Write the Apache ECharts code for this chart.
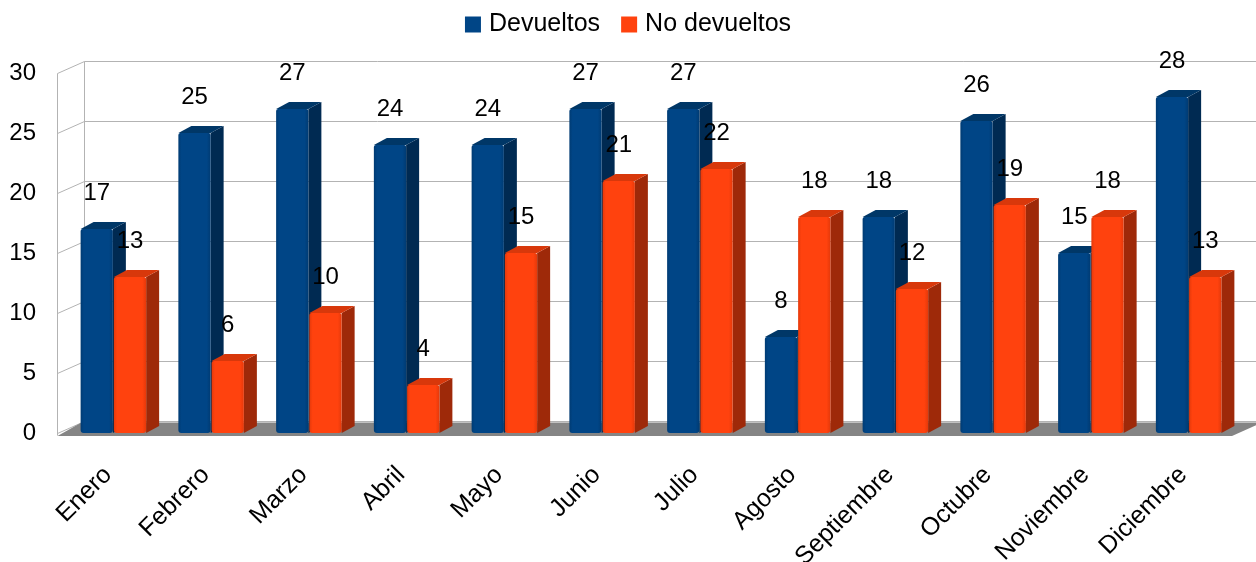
<!DOCTYPE html>
<html>
<head>
<meta charset="utf-8">
<script src="https://cdn.jsdelivr.net/npm/echarts@6/dist/echarts.min.js"></script>
<style>html,body{margin:0;padding:0;background:#fff}#c{width:1256px;height:562px}</style>
</head>
<body>
<div id="c"></div>
<script>
const categories = ['Enero','Febrero','Marzo','Abril','Mayo','Junio','Julio','Agosto','Septiembre','Octubre','Noviembre','Diciembre'];
const devueltos = [17,25,27,24,24,27,27,8,18,26,15,28];
const noDevueltos = [13,6,10,4,15,21,22,18,12,19,18,13];
const yTicks = [0,5,10,15,20,25,30];

const FONT = 'Liberation Sans, Arial, sans-serif';
const DX = 13, DY = -7;          // bar depth offset
const WDX = 27, WDY = -12;       // wall depth offset

const palettes = {
  blue:   { front: '#004586', edge: '#003b73', side: '#002a52', top: '#003767' },
  orange: { front: '#ff420e', edge: '#e5390a', side: '#9e2909', top: '#d8380b' }
};

function bar3d(pal, leftSide) {
  return function (params, api) {
    const cat = api.value(0), val = api.value(1);
    const base = api.coord([cat, 0]);
    const topP = api.coord([cat, val]);
    const band = api.size([1, 0])[0];
    const w = band * 0.33;
    const cx = base[0];
    const x0 = leftSide ? cx - w : cx + 1;
    const x1 = x0 + w;
    const yb = base[1], yt = topP[1];
    const grad = new echarts.graphic.LinearGradient(0, 0, 1, 0, [
      { offset: 0, color: pal.edge }, { offset: 0.1, color: pal.front },
      { offset: 0.88, color: pal.front }, { offset: 1, color: pal.edge }
    ]);
    return {
      type: 'group',
      children: [
        { type: 'polygon', shape: { points: [[x1, yt], [x1 + DX, yt + DY], [x1 + DX, yb + DY], [x1, yb]] }, style: { fill: pal.side } },
        { type: 'polygon', shape: { points: [[x0, yt], [x0 + DX, yt + DY], [x1 + DX, yt + DY], [x1, yt]] }, style: { fill: pal.top } },
        { type: 'rect', shape: { x: x0, y: yt, width: w, height: yb - yt, r: [2, 2, 3, 3] }, style: { fill: grad } },
        { type: 'text', x: (x0 + x1) / 2, y: yt - 36, style: { text: String(val), font: '24px ' + FONT, fill: '#000', textAlign: 'center', textVerticalAlign: 'middle' } }
      ]
    };
  };
}

function wall(params, api) {
  const cs = params.coordSys;
  const v = api.value(1);
  const y = Math.round(api.coord([0, v])[1]) + 0.5;
  const xf = Math.round(cs.x - 7) + 0.5;
  const xb = xf + WDX;
  const xr = cs.x + cs.width + 40;
  const ls = { stroke: '#b3b3b3', lineWidth: 1 };
  const children = [
    { type: 'line', shape: { x1: xf, y1: y, x2: xb, y2: y + WDY }, style: ls },
    { type: 'line', shape: { x1: xb, y1: y + WDY, x2: xr, y2: y + WDY }, style: ls }
  ];
  if (params.dataIndex === 0) {
    const yTop = Math.round(api.coord([0, yTicks[yTicks.length - 1]])[1]) + 0.5;
    children.push({ type: 'line', shape: { x1: xf, y1: yTop, x2: xf, y2: y + 2 }, style: ls });
    children.push({ type: 'line', shape: { x1: xb, y1: yTop + WDY, x2: xb, y2: y + WDY }, style: ls });
    const xfr = cs.x + cs.width - 5;
    children.push({ type: 'polygon', shape: { points: [[xf, y + 2.5], [xb - 3, y + WDY + 1], [xfr + WDX + 3, y + WDY + 1], [xfr, y + 2.5]] }, style: { fill: '#858585' } });
  }
  return { type: 'group', children };
}

const chart = echarts.init(document.getElementById('c'), null, { renderer: 'canvas' });
chart.setOption({
  animation: false,
  textStyle: { fontFamily: FONT },
  legend: {
    top: 7, left: 'center', itemWidth: 16, itemHeight: 16, itemGap: 21,
    icon: 'rect',
    textStyle: { fontSize: 25, color: '#000', fontFamily: FONT, padding: [0, 0, 0, 3] },
    data: ['Devueltos', 'No devueltos']
  },
  grid: { left: 64, right: 19, top: 73, bottom: 129, containLabel: false, outerBoundsMode: 'none' },
  xAxis: {
    type: 'category', data: categories,
    axisLine: { show: false }, axisTick: { show: false },
    axisLabel: { rotate: 45, margin: 33, fontSize: 25, color: '#000', fontFamily: FONT, interval: 0, padding: [0, 7, 0, 0] }
  },
  yAxis: {
    type: 'value', min: 0, max: 30, interval: 5,
    axisLine: { show: false }, axisTick: { show: false }, splitLine: { show: false },
    axisLabel: { fontSize: 24, color: '#000', margin: 28, fontFamily: FONT }
  },
  series: [
    { type: 'custom', name: 'wall', silent: true, z: 1, clip: false, renderItem: wall,
      data: yTicks.map(v => [0, v]), encode: { x: 0, y: 1 } },
    { type: 'custom', name: 'Devueltos', z: 3, clip: false, color: palettes.blue.front,
      renderItem: bar3d(palettes.blue, true),
      data: devueltos.map((v, i) => [i, v]), encode: { x: 0, y: 1 } },
    { type: 'custom', name: 'No devueltos', z: 4, clip: false, color: palettes.orange.front,
      renderItem: bar3d(palettes.orange, false),
      data: noDevueltos.map((v, i) => [i, v]), encode: { x: 0, y: 1 } }
  ]
});
</script>
</body>
</html>
